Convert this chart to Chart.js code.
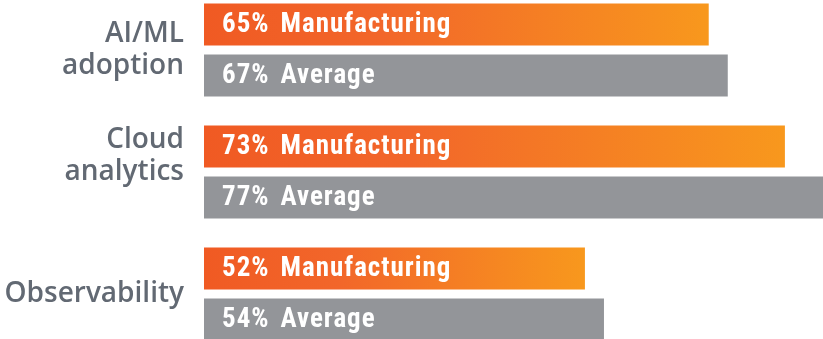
<!DOCTYPE html>
<html>
<head>
<meta charset="utf-8">
<script src="https://cdn.jsdelivr.net/npm/chart.js@4"></script>
<style>
  html, body { margin: 0; padding: 0; background: #ffffff; overflow: hidden; }
  body { width: 823px; height: 339px; position: relative; }
  #wrap { position: absolute; left: 0; top: -11px; width: 823px; height: 366px; }
</style>
</head>
<body>
<div id="wrap"><canvas id="c"></canvas></div>
<script>
const categories = [['AI/ML', 'adoption'], ['Cloud', 'analytics', ''], ['Observability']];
const seriesNames = ['Manufacturing', 'Average'];
const manufacturing = [65, 73, 52];
const average = [67, 77, 54];

const ORANGE_L = '#F05A23';
const ORANGE_R = '#F8981D';
const GREY = '#939599';
const LABEL = '#626973';
const BAR_FONT = "bold 27px 'Liberation Sans Narrow', 'Roboto Condensed', Roboto, sans-serif";

function orangeGradient(ctx) {
  const chart = ctx.chart;
  if (!chart.chartArea || ctx.raw === undefined) return ORANGE_L;
  const xs = chart.scales.x;
  const x0 = xs.getPixelForValue(xs.min);
  const x1 = xs.getPixelForValue(ctx.raw);
  const g = chart.ctx.createLinearGradient(x0, 0, x1, 0);
  g.addColorStop(0, ORANGE_L);
  g.addColorStop(0.35, '#F2662A');
  g.addColorStop(1, ORANGE_R);
  return g;
}

const barText = {
  id: 'barText',
  afterDatasetsDraw(chart) {
    const ctx = chart.ctx;
    const left = chart.chartArea.left;
    ctx.save();
    ctx.fillStyle = '#ffffff';
    ctx.font = BAR_FONT;
    try { ctx.letterSpacing = '1px'; } catch (e) {}
    ctx.textBaseline = 'middle';
    ctx.textAlign = 'left';
    chart.data.datasets.forEach((ds, i) => {
      const meta = chart.getDatasetMeta(i);
      meta.data.forEach((bar, j) => {
        const v = ds.data[j] + '%';
        const x = Math.max(bar.base, left) + 18;
        const y = bar.y + 1;
        ctx.fillText(v, x, y);
        const w = ctx.measureText(v).width;
        ctx.fillText(ds.label, x + w + 11, y);
      });
    });
    ctx.restore();
  }
};

new Chart(document.getElementById('c'), {
  type: 'bar',
  data: {
    labels: categories,
    datasets: [
      { label: seriesNames[0], data: manufacturing, backgroundColor: orangeGradient,
        categoryPercentage: 0.836, barPercentage: 0.8235 },
      { label: seriesNames[1], data: average, backgroundColor: GREY,
        categoryPercentage: 0.836, barPercentage: 0.8235 }
    ]
  },
  options: {
    indexAxis: 'y',
    responsive: true,
    maintainAspectRatio: false,
    animation: false,
    layout: { padding: 0 },
    plugins: { legend: { display: false }, tooltip: { enabled: false } },
    scales: {
      x: { display: false, min: 12, max: 77 },
      y: {
        grid: { display: false, drawTicks: false },
        border: { display: false },
        ticks: {
          color: LABEL,
          padding: 20,
          font: { family: "'Open Sans', Roboto, sans-serif", size: 28, weight: '600', lineHeight: 1.143 }
        },
        afterFit(scale) {
          scale.width = 204;
          scale.paddingTop = 0;
          scale.paddingBottom = 0;
        }
      }
    }
  },
  plugins: [barText]
});
</script>
</body>
</html>
